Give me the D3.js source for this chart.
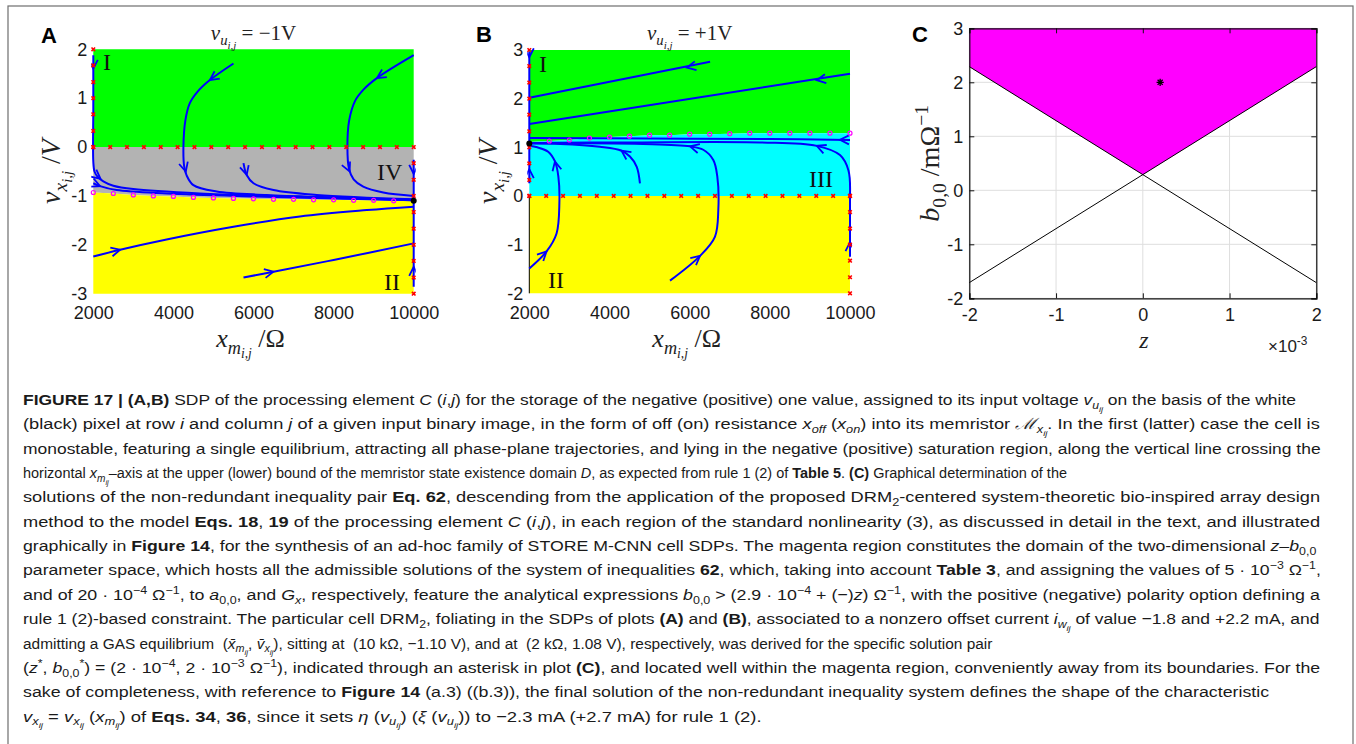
<!DOCTYPE html>
<html>
<head>
  <meta charset="utf-8">
  <title>Figure 17</title>
  <script src="https://d3js.org/d3.v7.min.js"></script>
  <style>
    body { margin: 0; background: #fff; }
    svg text { white-space: pre; }
  </style>
</head>
<body>
<div id="fig"></div>
<script>
// ---------- data ----------
const xGrid = [2000,2500,3000,3500,4000,4500,5000,5500,6000,6500,7000,7500,8000,8500,9000,9500,10000];
const xTicks = [2000,4000,6000,8000,10000];
const yTicksA = [2,1,0,-1,-2,-3];
const yTicksB = [3,2,1,0,-1,-2];
const zTicksC = [-2,-1,0,1,2];
const bTicksC = [-2,-1,0,1,2,3];

// boundary between saturation (gray / cyan) region and the neighbour region, read at xGrid
const boundaryA = [-0.93,-0.95,-0.98,-1.00,-1.01,-1.03,-1.04,-1.05,-1.06,-1.07,-1.07,-1.08,-1.08,-1.09,-1.09,-1.10,-1.10];
const boundaryB = [1.11,1.13,1.15,1.19,1.21,1.23,1.25,1.25,1.27,1.27,1.28,1.29,1.29,1.29,1.29,1.29,1.29];

// red markers
const markX = [2000,2421,2842,3263,3684,4105,4526,4947,5368,5789,6211,6632,7053,7474,7895,8316,8737,9158,9579,10000];
const markLeftA = [2,1.67,1.33,1,0.67,0.33,0];
const markRightA = [-0.33,-0.67,-1,-1.33,-1.67,-2,-2.33,-2.67,-3];
const markLeftB = [3,2.67,2.33,2,1.67,1.33,1,0.67,0.33,0];
const markRightB = [0,-0.33,-0.67,-1,-1.33,-1.67,-2];

// equilibria
const eqA = [10000,-1.10];
const eqB = [2000,1.08];

// trajectories (flow order)
const trajA1 = [[2000,1.88],[2000,0.8],[2000,-0.3],[2030,-0.5],[2100,-0.6],[2250,-0.7],[2500,-0.79],[3000,-0.86],[4660,-0.95],[8000,-1.04],[10000,-1.09]];
const trajA2 = [[5500,1.71],[4910,1.37],[4600,1.13],[4410,0.9],[4300,0.55],[4250,0.0],[4270,-0.40],[4330,-0.58],[4500,-0.78],[5080,-0.91],[6330,-0.98],[8000,-1.03],[10000,-1.08]];
const trajA3 = [[5750,-0.33],[5830,-0.57],[6000,-0.74],[6500,-0.88],[7580,-0.98],[10000,-1.07]];
const trajA4 = [[10000,1.88],[9080,1.41],[8740,1.17],[8540,0.95],[8390,0.55],[8345,0.0],[8385,-0.45],[8500,-0.66],[8740,-0.81],[9240,-0.93],[10000,-1.0]];
const trajA5 = [[2000,-0.74],[2170,-0.80],[2580,-0.88],[3830,-0.95],[6000,-1.01],[10000,-1.09]];
const trajA6 = [[2000,-2.24],[2670,-2.1],[3830,-1.89],[5500,-1.63],[7160,-1.42],[8830,-1.29],[10000,-1.22]];
const trajA7 = [[5750,-2.67],[6500,-2.55],[8000,-2.31],[10000,-1.97]];
const trajA8 = [[10000,-0.26],[10000,-1.1]];
const trajA9 = [[10000,-2.86],[10000,-1.1]];

const trajB1 = [[6510,2.76],[2000,2.02]];
const trajB2 = [[10000,2.51],[2000,1.48]];
const trajB3 = [[2000,2.97],[2000,1.08]];
const trajB4 = [[2000,0.26],[2000,1.08]];
const trajB5 = [[10000,1.15],[8000,1.17],[5000,1.18],[2000,1.19]];
const trajB6 = [[10000,0.02],[9960,0.53],[9750,0.84],[9170,1.03],[7750,1.10],[4430,1.10],[2000,1.09]];
const trajB7 = [[4760,0.26],[4680,0.60],[4510,0.81],[4300,0.93],[3760,1.01],[2770,1.07],[2000,1.08]];
const trajB8 = [[5510,-1.74],[6260,-1.23],[6630,-0.84],[6715,-0.29],[6690,0.40],[6590,0.74],[6340,0.95],[6010,1.02],[4840,1.07],[2000,1.09]];
const trajB9 = [[2000,-1.49],[2430,-1.14],[2680,-0.77],[2750,-0.15],[2725,0.40],[2640,0.71],[2470,0.91],[2200,1.0],[2000,1.03]];
const trajB10 = [[10000,-1.25],[10000,0.02]];

// arrowheads: [trajectory, x, y]
const arrowsA = [[trajA1,2000,1.6],[trajA1,2180,-0.65],[trajA5,2170,-0.80],[trajA2,4910,1.37],[trajA2,4310,-0.5],
  [trajA3,5830,-0.57],[trajA4,9080,1.41],[trajA4,8400,-0.5],[trajA6,2670,-2.1],[trajA7,6500,-2.55],
  [trajA8,10000,-0.55],[trajA9,10000,-2.45]];
const arrowsB = [[trajB1,5930,2.64],[trajB2,9170,2.38],[trajB3,2000,2.85],[trajB4,2000,0.55],[trajB5,9750,1.155],
  [trajB6,9170,1.03],[trajB7,4300,0.93],[trajB8,6260,-1.23],[trajB8,6010,1.02],[trajB9,2430,-1.14],
  [trajB9,2640,0.71],[trajB10,10000,-0.95]];

// panel C
const polyC = [[-2,3],[2,3],[2,2.29],[0,0.29],[-2,2.29]];
const lineC1 = [[-2,2.29],[2,-1.71]];
const lineC2 = [[-2,-1.71],[2,2.29]];
const starC = [0.2,2];

// caption lines: [text, right end]
const caption = [
  ["{b:FIGURE 17 | (A,B)} SDP of the processing element {i:C} ({i:i},{i:j}) for the storage of the negative (positive) one value, assigned to its input voltage {i:v}{_i:u}{__i:ij} on the basis of the white", 1296],
  ["(black) pixel at row {i:i} and column {i:j} of a given input binary image, in the form of off (on) resistance {i:x}{_i:off} ({i:x}{_i:on}) into its memristor {i:ℳ}{_i:x}{__i:ij}. In the first (latter) case the cell is", 1321],
  ["monostable, featuring a single equilibrium, attracting all phase-plane trajectories, and lying in the negative (positive) saturation region, along the vertical line crossing the", 1321],
  ["horizontal {i:x}{_i:m}{__i:ij}–axis at the upper (lower) bound of the memristor state existence domain {i:D}, as expected from rule 1 (2) of {b:Table 5}. {b:(C)} Graphical determination of the", 1068],
  ["solutions of the non-redundant inequality pair {b:Eq. 62}, descending from the application of the proposed DRM{_:2}-centered system-theoretic bio-inspired array design", 1321],
  ["method to the model {b:Eqs. 18}, {b:19} of the processing element {i:C} ({i:i},{i:j}), in each region of the standard nonlinearity (3), as discussed in detail in the text, and illustrated", 1321],
  ["graphically in {b:Figure 14}, for the synthesis of an ad-hoc family of STORE M-CNN cell SDPs. The magenta region constitutes the domain of the two-dimensional {i:z}–{i:b}{_:0,0}", 1318],
  ["parameter space, which hosts all the admissible solutions of the system of inequalities {b:62}, which, taking into account {b:Table 3}, and assigning the values of 5 · 10{^:−3} Ω{^:−1},", 1321],
  ["and of 20 · 10{^:−4} Ω{^:−1}, to {i:a}{_:0,0}, and {i:G}{_i:x}, respectively, feature the analytical expressions {i:b}{_:0,0} > (2.9 · 10{^:−4} + (−){i:z}) Ω{^:−1}, with the positive (negative) polarity option defining a", 1321],
  ["rule 1 (2)-based constraint. The particular cell DRM{_:2}, foliating in the SDPs of plots {b:(A)} and {b:(B)}, associated to a nonzero offset current {i:i}{_i:w}{__i:ij} of value −1.8 and +2.2 mA, and", 1321],
  ["admitting a GAS equilibrium  ({i:x̄}{_i:m}{__i:ij}, {i:v̄}{_i:x}{__i:ij}), sitting at  (10 kΩ, −1.10 V), and at  (2 kΩ, 1.08 V), respectively, was derived for the specific solution pair", 993],
  ["({i:z}{^:*}, {i:b}{_:0,0}{^:*}) = (2 · 10{^:−4}, 2 · 10{^:−3} Ω{^:−1}), indicated through an asterisk in plot {b:(C)}, and located well within the magenta region, conveniently away from its boundaries. For the", 1321],
  ["sake of completeness, with reference to {b:Figure 14} (a.3) ((b.3)), the final solution of the non-redundant inequality system defines the shape of the characteristic", 1270],
  ["{i:v}{_i:x}{__i:ij} = {i:v}{_i:x}{__i:ij} ({i:x}{_i:m}{__i:ij}) of {b:Eqs. 34}, {b:36}, since it sets {i:η} ({i:v}{_i:u}{__i:ij}) ({i:ξ} ({i:v}{_i:u}{__i:ij})) to −2.3 mA (+2.7 mA) for rule 1 (2).", 762]
];

// ---------- drawing ----------
const W = 1356, H = 744;
const fontSans = "'Liberation Sans', Arial, Helvetica, sans-serif";
const fontSerif = "'Liberation Serif', 'Times New Roman', serif";
const fontNarrow = "'Liberation Sans Narrow', 'Arial Narrow', 'Liberation Sans', sans-serif";
const blue = "#0000ff";
const tickFont = 18;

const svg = d3.select("#fig").append("svg")
  .attr("width", W).attr("height", H);

svg.append("rect").attr("x", 8).attr("y", 6).attr("width", 1345).attr("height", 800)
  .attr("fill", "none").attr("stroke", "#6e6e6e").attr("stroke-width", 1.2);

// rich text with {flags:text} segments: _ sub, __ subsub, ^ sup, i italic, b bold
function richText(t, str, size) {
  const re = /\{([_^ib]*):([^}]*)\}/g;
  const segs = [];
  let last = 0, m;
  while ((m = re.exec(str)) !== null) {
    if (m.index > last) segs.push(["", str.slice(last, m.index)]);
    segs.push([m[1], m[2]]);
    last = re.lastIndex;
  }
  if (last < str.length) segs.push(["", str.slice(last)]);
  let shift = 0;
  segs.forEach(([f, s]) => {
    const lvl = (f.match(/_/g) || []).length;
    const sup = f.includes("^");
    let fs = size, target = 0;
    if (lvl === 1) { fs = size * 0.7; target = 0.25 * size; }
    if (lvl >= 2) { fs = size * 0.52; target = 0.42 * size; }
    if (sup) { fs = size * 0.7; target = -0.4 * size; }
    t.append("tspan")
      .attr("dy", (target - shift).toFixed(2))
      .attr("font-size", fs)
      .attr("font-style", f.includes("i") ? "italic" : null)
      .attr("font-weight", f.includes("b") ? "bold" : null)
      .text(s);
    shift = target;
  });
  return t;
}

function panelLabel(txt, x, y) {
  svg.append("text").attr("x", x).attr("y", y).text(txt)
    .attr("font-family", fontSans).attr("font-weight", "bold").attr("font-size", 22);
}

function styleAxis(g) {
  g.select(".domain").remove();
  g.selectAll("text").attr("font-family", fontSans).attr("font-size", tickFont).attr("fill", "#1a1a1a");
}

function arrowHead(g, traj, px, py, x, y) {
  // direction from nearest segment of the trajectory
  const pts = traj.map(d => [x(d[0]), y(d[1])]);
  const P = [x(px), y(py)];
  let best = Infinity, dir = [1, 0];
  for (let i = 0; i < pts.length - 1; i++) {
    const a = pts[i], b = pts[i + 1];
    const vx = b[0] - a[0], vy = b[1] - a[1];
    const L2 = vx * vx + vy * vy || 1;
    let t = ((P[0] - a[0]) * vx + (P[1] - a[1]) * vy) / L2;
    t = Math.max(0, Math.min(1, t));
    const dx = a[0] + t * vx - P[0], dy = a[1] + t * vy - P[1];
    const dd = dx * dx + dy * dy;
    if (dd < best) { best = dd; const L = Math.sqrt(L2); dir = [vx / L, vy / L]; }
  }
  const len = 9, wid = 4.5;
  const bx = P[0] - dir[0] * len, by = P[1] - dir[1] * len;
  const nx = -dir[1], ny = dir[0];
  g.append("path")
    .attr("d", `M${bx + nx * wid},${by + ny * wid}L${P[0]},${P[1]}L${bx - nx * wid},${by - ny * wid}`)
    .attr("fill", "none").attr("stroke", blue).attr("stroke-width", 1.8)
    .attr("stroke-linejoin", "miter");
}

function phasePanel(opt) {
  const x = d3.scaleLinear().domain([2000, 10000]).range(opt.xr);
  const y = d3.scaleLinear().domain(opt.yd).range(opt.yr);
  const g = svg.append("g");
  const clipId = "clip" + opt.id;
  svg.append("clipPath").attr("id", clipId).append("rect")
    .attr("x", opt.xr[0] - 2).attr("y", opt.yr[1] - 2)
    .attr("width", opt.xr[1] - opt.xr[0] + 4).attr("height", opt.yr[0] - opt.yr[1] + 4);

  // regions
  opt.regions.forEach(r => {
    g.append("path")
      .attr("d", d3.area().x(d => x(d))
        .y0((d, i) => y(r.lo(i))).y1((d, i) => y(r.hi(i)))(xGrid))
      .attr("fill", r.color);
  });

  if (opt.leftAxisLine) {
    g.append("line").attr("x1", x(2000)).attr("x2", x(2000))
      .attr("y1", y(0)).attr("y2", y(opt.yd[0])).attr("stroke", "#000").attr("stroke-width", 1);
  }

  // trajectories
  const tg = g.append("g").attr("clip-path", `url(#${clipId})`);
  const line = d3.line().x(d => x(d[0])).y(d => y(d[1])).curve(d3.curveCatmullRom.alpha(0.5));
  opt.trajs.forEach(t => {
    tg.append("path").attr("d", line(t)).attr("fill", "none")
      .attr("stroke", blue).attr("stroke-width", 2);
  });
  opt.arrows.forEach(a => arrowHead(tg, a[0], a[1], a[2], x, y));

  // red markers
  const marks = [];
  markX.forEach(v => marks.push([v, 0]));
  opt.markLeft.forEach(v => marks.push([2000, v]));
  opt.markRight.forEach(v => marks.push([10000, v]));
  marks.forEach(d => {
    const cx = x(d[0]), cy = y(d[1]), s = 1.8;
    g.append("path").attr("d", `M${cx - s},${cy - s}L${cx + s},${cy + s}M${cx - s},${cy + s}L${cx + s},${cy - s}`)
      .attr("stroke", "#ff0000").attr("stroke-width", 1.6);
  });

  // magenta circles on boundary
  opt.circleIdx.forEach(i => {
    g.append("circle").attr("cx", x(xGrid[i])).attr("cy", y(opt.boundary[i])).attr("r", 2)
      .attr("fill", "none").attr("stroke", "#ff00ff").attr("stroke-width", 1.2);
  });

  // equilibrium
  g.append("circle").attr("cx", x(opt.eq[0])).attr("cy", y(opt.eq[1])).attr("r", 3).attr("fill", "#000");

  // tick labels
  g.append("g").attr("transform", `translate(0,${opt.yr[0]})`)
    .call(d3.axisBottom(x).tickValues(xTicks).tickSize(0).tickPadding(13).tickFormat(d => String(d)))
    .call(styleAxis);
  g.append("g").attr("transform", `translate(${opt.xr[0]},0)`)
    .call(d3.axisLeft(y).tickValues(opt.yTicks).tickSize(0).tickPadding(6).tickFormat(d => String(d)))
    .call(styleAxis);

  // roman region labels
  opt.romans.forEach(r => {
    svg.append("text").attr("x", r[1]).attr("y", r[2]).text(r[0])
      .attr("font-family", fontSerif).attr("font-size", 24).attr("fill", "#111");
  });

  // title and axis labels
  richText(svg.append("text").attr("x", (opt.xr[0] + opt.xr[1]) / 2).attr("y", 40)
    .attr("text-anchor", "middle").attr("font-family", fontSerif).attr("fill", "#222"),
    opt.title, 21);
  richText(svg.append("text").attr("x", (opt.xr[0] + opt.xr[1]) / 2 - 3).attr("y", 347)
    .attr("text-anchor", "middle").attr("font-family", fontSerif).attr("fill", "#222"),
    "{i:x}{_i:m}{__i:i,j} /Ω", 26);
  richText(svg.append("text")
    .attr("transform", `translate(${opt.ylabX},${(opt.yr[0] + opt.yr[1]) / 2}) rotate(-90)`)
    .attr("text-anchor", "middle").attr("font-family", fontSerif).attr("fill", "#222"),
    "{i:v}{_i:x}{__i:i,j} /{i:V}", 28);
}

// Panel A
phasePanel({
  id: "A", xr: [93.3, 413.7], yd: [-3, 2], yr: [293.7, 49.3], yTicks: yTicksA,
  regions: [
    { color: "#00ff00", lo: () => 0, hi: () => 2 },
    { color: "#b3b3b3", lo: i => boundaryA[i], hi: () => 0 },
    { color: "#ffff00", lo: () => -3, hi: i => boundaryA[i] }
  ],
  trajs: [trajA1, trajA2, trajA3, trajA4, trajA5, trajA6, trajA7, trajA8, trajA9],
  arrows: arrowsA,
  markLeft: markLeftA, markRight: markRightA,
  boundary: boundaryA, circleIdx: [0,1,2,3,4,5,6,7,8,9,10,11,12,13,14,15],
  eq: eqA,
  romans: [["I", 103, 70], ["IV", 377, 180], ["II", 384, 290]],
  title: "{i:v}{_i:u}{__i:i,j} = −1V",
  ylabX: 60, leftAxisLine: false
});

// Panel B
phasePanel({
  id: "B", xr: [529.3, 850], yd: [-2, 3], yr: [293.3, 50], yTicks: yTicksB,
  regions: [
    { color: "#00ff00", lo: i => boundaryB[i], hi: () => 3 },
    { color: "#00ffff", lo: () => 0, hi: i => boundaryB[i] },
    { color: "#ffff00", lo: () => -2, hi: () => 0 }
  ],
  trajs: [trajB1, trajB2, trajB3, trajB4, trajB5, trajB6, trajB7, trajB8, trajB9, trajB10],
  arrows: arrowsB,
  markLeft: markLeftB, markRight: markRightB,
  boundary: boundaryB, circleIdx: [1,2,3,4,5,6,7,8,9,10,11,12,13,14,15,16],
  eq: eqB,
  romans: [["I", 539, 72], ["III", 809, 187], ["II", 548, 288]],
  title: "{i:v}{_i:u}{__i:i,j} = +1V",
  ylabX: 497, leftAxisLine: true
});

panelLabel("A", 41, 43);
panelLabel("B", 476, 42);
panelLabel("C", 912, 42);

// Panel C
(function () {
  const x = d3.scaleLinear().domain([-2, 2]).range([969.3, 1316.3]);
  const y = d3.scaleLinear().domain([-2, 3]).range([298.3, 28.3]);
  const g = svg.append("g");
  // grid
  zTicksC.forEach(v => g.append("line").attr("x1", x(v)).attr("x2", x(v)).attr("y1", y(-2)).attr("y2", y(3))
    .attr("stroke", "#dedede").attr("stroke-width", 1));
  bTicksC.forEach(v => g.append("line").attr("x1", x(-2)).attr("x2", x(2)).attr("y1", y(v)).attr("y2", y(v))
    .attr("stroke", "#dedede").attr("stroke-width", 1));
  // admissible region
  g.append("path").attr("d", d3.line().x(d => x(d[0])).y(d => y(d[1]))(polyC) + "Z")
    .attr("fill", "#ff00ff");
  [lineC1, lineC2].forEach(l => g.append("path")
    .attr("d", d3.line().x(d => x(d[0])).y(d => y(d[1]))(l))
    .attr("stroke", "#000").attr("stroke-width", 1).attr("fill", "none"));
  // asterisk
  const sx = x(starC[0]), sy = y(starC[1]), r = 3.6;
  let ds = "";
  [0, 45, 90, 135].forEach(a => {
    const c = Math.cos(a * Math.PI / 180) * r, s = Math.sin(a * Math.PI / 180) * r;
    ds += `M${sx - c},${sy - s}L${sx + c},${sy + s}`;
  });
  g.append("path").attr("d", ds).attr("stroke", "#000").attr("stroke-width", 1.3);

  // axes with inward ticks
  const fmt = d => String(d);
  g.append("g").attr("transform", `translate(0,${y(-2)})`)
    .call(d3.axisBottom(x).tickValues(zTicksC).tickSize(-5).tickPadding(10).tickFormat(fmt))
    .call(a => a.selectAll("text").attr("font-family", fontSans).attr("font-size", tickFont).attr("fill", "#1a1a1a"));
  g.append("g").attr("transform", `translate(${x(-2)},0)`)
    .call(d3.axisLeft(y).tickValues(bTicksC).tickSize(-5).tickPadding(6).tickFormat(fmt))
    .call(a => a.selectAll("text").attr("font-family", fontSans).attr("font-size", tickFont).attr("fill", "#1a1a1a"));
  g.append("g").attr("transform", `translate(0,${y(3)})`)
    .call(d3.axisTop(x).tickValues(zTicksC).tickSize(-5).tickFormat(""));
  g.append("g").attr("transform", `translate(${x(2)},0)`)
    .call(d3.axisRight(y).tickValues(bTicksC).tickSize(-5).tickFormat(""));
  g.selectAll(".domain").attr("stroke", "#111").attr("stroke-width", 1.2);
  g.selectAll(".tick line").attr("stroke", "#111");

  richText(svg.append("text").attr("x", 1144).attr("y", 348).attr("text-anchor", "middle")
    .attr("font-family", fontSerif).attr("fill", "#222"), "{i:z}", 24);
  richText(svg.append("text").attr("x", 1268).attr("y", 352)
    .attr("font-family", fontSans).attr("fill", "#222"), "×10{^:-3}", 17);
  richText(svg.append("text")
    .attr("transform", `translate(939,${(y(-2) + y(3)) / 2}) rotate(-90)`)
    .attr("text-anchor", "middle").attr("font-family", fontSerif).attr("fill", "#222"),
    "{i:b}{_:0,0} /mΩ{^:−1}", 28);
})();

// caption: each line is squeezed horizontally to its width in the reference
caption.forEach((c, k) => {
  const y0 = 405 + k * 24.35;
  const t = svg.append("text").attr("x", 0).attr("y", 0)
    .attr("font-family", fontNarrow).attr("fill", "#1a1a1a");
  richText(t, c[0], 15.5);
  const natural = t.node().getComputedTextLength();
  const sx = (c[1] - 23) / natural;
  t.attr("transform", `translate(23,${y0}) scale(${sx.toFixed(4)},1)`);
});
</script>
</body>
</html>
